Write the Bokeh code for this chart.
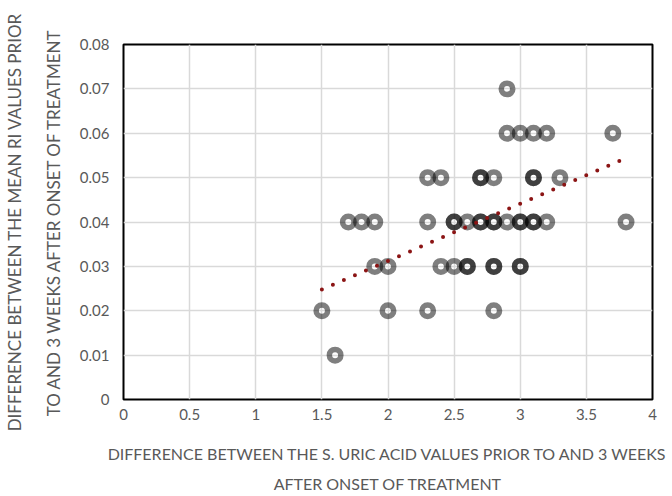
from bokeh.plotting import figure
from bokeh.models import FixedTicker, Range1d
from bokeh.embed import file_html
from bokeh.resources import INLINE

# Data (duplicates appear as darker rings)
x_vals = [2.9,
          2.9, 3.0, 3.1, 3.2, 3.7,
          2.3, 2.4, 2.7, 2.7, 2.8, 3.1, 3.1, 3.3,
          1.7, 1.8, 1.9, 2.3, 2.5, 2.5, 2.6, 2.7, 2.7, 2.8, 2.8, 2.9, 3.0, 3.0, 3.1, 3.1, 3.2, 3.8,
          1.9, 2.0, 2.4, 2.5, 2.6, 2.6, 2.8, 2.8, 3.0, 3.0,
          1.5, 2.0, 2.3, 2.8,
          1.6]
y_vals = [0.07,
          0.06, 0.06, 0.06, 0.06, 0.06,
          0.05, 0.05, 0.05, 0.05, 0.05, 0.05, 0.05, 0.05,
          0.04, 0.04, 0.04, 0.04, 0.04, 0.04, 0.04, 0.04, 0.04, 0.04, 0.04, 0.04, 0.04, 0.04, 0.04, 0.04, 0.04, 0.04,
          0.03, 0.03, 0.03, 0.03, 0.03, 0.03, 0.03, 0.03, 0.03, 0.03,
          0.02, 0.02, 0.02, 0.02,
          0.01]

# Linear trendline endpoints
trend_x = [1.5, 3.76]
trend_y = [0.0248, 0.0539]

x_ticks = [0, 0.5, 1, 1.5, 2, 2.5, 3, 3.5, 4]
x_tick_labels = ["0", "0.5", "1", "1.5", "2", "2.5", "3", "3.5", "4"]
y_ticks = [0, 0.01, 0.02, 0.03, 0.04, 0.05, 0.06, 0.07, 0.08]
y_tick_labels = ["0", "0.01", "0.02", "0.03", "0.04", "0.05", "0.06", "0.07", "0.08"]

x_title = "DIFFERENCE BETWEEN THE S. URIC ACID VALUES PRIOR TO AND 3 WEEKS\nAFTER ONSET OF TREATMENT"
y_title = "DIFFERENCE BETWEEN THE MEAN RI VALUES PRIOR\nTO AND 3 WEEKS AFTER ONSET OF TREATMENT"

FONT = "Lato"
GRAY = "#595959"

p = figure(width=672, height=496, output_backend="svg", toolbar_location=None,
           x_range=Range1d(0, 4), y_range=Range1d(0, 0.08),
           min_border_left=120, min_border_right=20, min_border_top=44, min_border_bottom=95)

p.outline_line_color = "black"
p.outline_line_width = 2
p.background_fill_color = "white"
p.border_fill_color = "white"

p.xgrid.grid_line_color = "#d9d9d9"
p.ygrid.grid_line_color = "#d9d9d9"
p.xgrid.grid_line_width = 1.5
p.ygrid.grid_line_width = 1.5

p.xaxis.ticker = FixedTicker(ticks=x_ticks)
p.yaxis.ticker = FixedTicker(ticks=y_ticks)
p.xaxis.major_label_overrides = {t: l for t, l in zip(x_ticks, x_tick_labels)}
p.yaxis.major_label_overrides = {t: l for t, l in zip(y_ticks, y_tick_labels)}

for ax in (p.xaxis, p.yaxis):
    ax.axis_line_color = None
    ax.major_tick_line_color = None
    ax.minor_tick_line_color = None
    ax.major_label_text_font = FONT
    ax.major_label_text_font_size = "15px"
    ax.major_label_text_color = GRAY
    ax.axis_label_text_font = FONT
    ax.axis_label_text_font_style = "normal"
    ax.axis_label_text_color = GRAY

p.xaxis.axis_label_text_font_size = "16px"
p.yaxis.axis_label_text_font_size = "17px"

p.xaxis.axis_label = x_title
p.yaxis.axis_label = y_title
p.xaxis.major_label_standoff = 3
p.yaxis.major_label_standoff = 8
p.xaxis.axis_label_standoff = 21
p.yaxis.axis_label_standoff = 13
p.xaxis.axis_label_text_line_height = 1.61
p.yaxis.axis_label_text_line_height = 1.86

p.scatter(x_vals, y_vals, marker="circle", size=11.5, fill_color=None,
          line_color="black", line_alpha=0.5, line_width=5.5)

p.line(trend_x, trend_y, line_color="#8b1414", line_width=4, line_dash=[0, 12],
       line_cap="round")

open("out.html", "w").write(file_html(p, INLINE))
